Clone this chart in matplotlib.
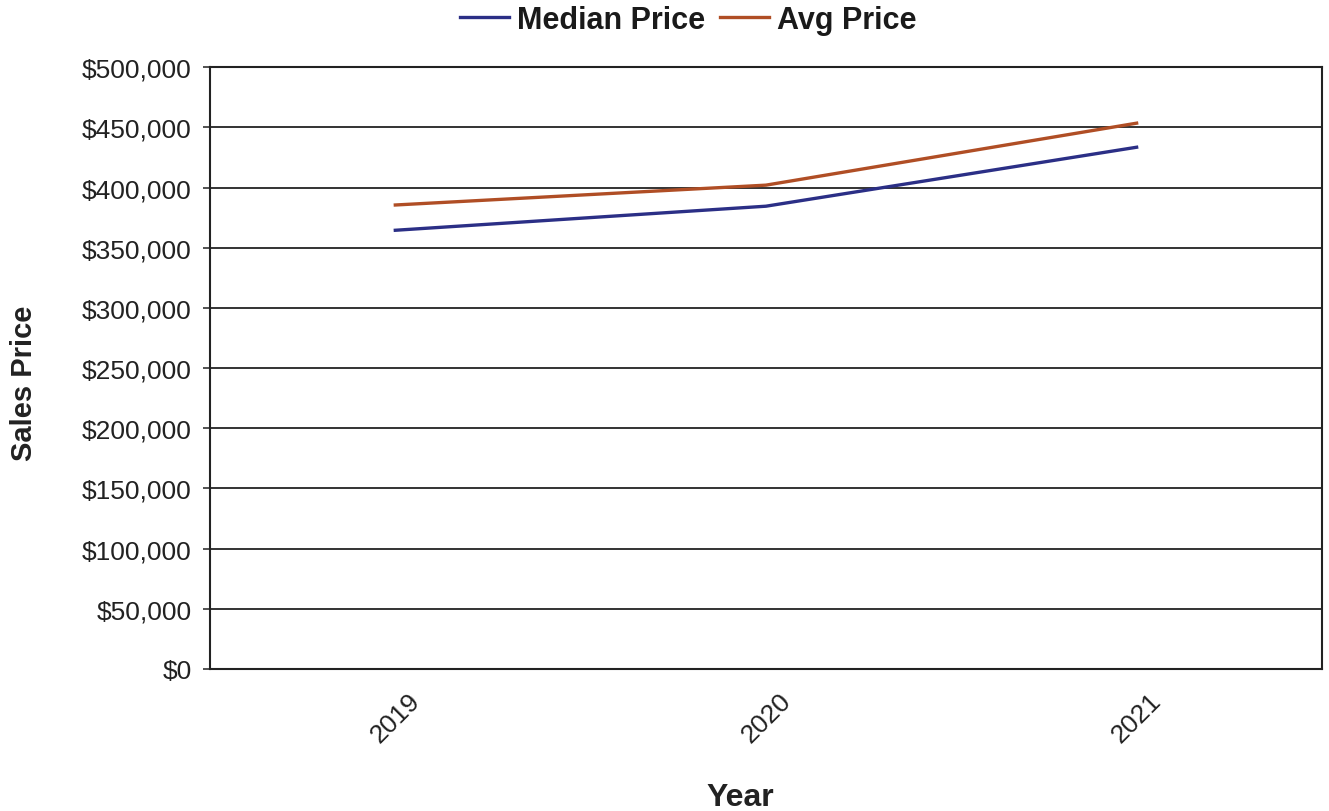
import matplotlib
matplotlib.use("Agg")
import matplotlib.pyplot as plt
from matplotlib.ticker import FuncFormatter

years = ["2019", "2020", "2021"]
median_price = [364500, 384500, 433500]
avg_price = [385500, 402000, 453500]
y_ticks = list(range(0, 500001, 50000))

plt.rcParams['font.family'] = ['Liberation Sans', 'DejaVu Sans']

fig = plt.figure(figsize=(13.29, 8.12), dpi=100)
ax = fig.add_axes([0.158, 0.175, 0.9947 - 0.158, 0.916 - 0.175])

x = list(range(len(years)))
ax.plot(x, median_price, color="#2b2f86", lw=2.4, label="Median Price", zorder=3)
ax.plot(x, avg_price, color="#b04e25", lw=2.4, label="Avg Price", zorder=3)

ax.set_xlim(-0.5, len(years) - 0.5)
ax.set_ylim(0, 500000)
ax.set_yticks(y_ticks)
ax.yaxis.set_major_formatter(FuncFormatter(lambda v, p: f"${int(v):,}"))
ax.set_xticks(x)
ax.set_xticklabels(years, rotation=45, ha="center")
ax.tick_params(axis="y", labelsize=19, length=5, width=1.2, color="#333333",
               labelcolor="#222222", pad=8)
ax.tick_params(axis="x", labelsize=19, length=0, pad=14, labelcolor="#222222")
ax.grid(axis="y", color="#333333", lw=1.4)
ax.set_axisbelow(True)
for s in ax.spines.values():
    s.set_color("#222222")
    s.set_linewidth(1.5)

fig.text(24 / 1329, 1 - 383 / 812, "Sales Price", rotation=90, fontsize=21,
         fontweight="bold", ha="center", va="center", color="#222222")
fig.text(740 / 1329, 1 - 798 / 812, "Year", fontsize=23,
         fontweight="bold", ha="center", va="center", color="#222222")

fig.legend(loc="center", bbox_to_anchor=(0.518, 0.974), ncol=2, frameon=False,
           prop={"size": 22, "weight": "bold"}, handlelength=1.6, handletextpad=0.25,
           columnspacing=0.5, labelcolor="#1a1a1a")

fig.savefig("out.png", dpi=100, facecolor="white")
